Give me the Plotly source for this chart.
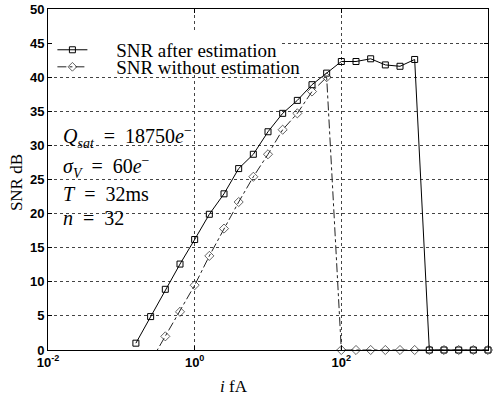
import plotly.graph_objects as go

# ---- data ----
current_after = [0.158, 0.251, 0.398, 0.631, 1.0, 1.585, 2.512, 3.981, 6.310, 10.0,
                 15.85, 25.12, 39.81, 63.10, 100.0, 158.5, 251.2, 398.1, 631.0,
                 1000.0, 1585.0, 2512.0, 3981.0, 6310.0, 10000.0]
snr_after = [1.0, 4.9, 8.9, 12.6, 16.2, 19.9, 22.9, 26.6, 28.7, 32.0,
             34.7, 36.6, 38.9, 40.6, 42.3, 42.3, 42.7, 41.8, 41.6,
             42.6, 0, 0, 0, 0, 0]

current_without = [0.251, 0.398, 0.631, 1.0, 1.585, 2.512, 3.981, 6.310, 10.0,
                   15.85, 25.12, 39.81, 63.10, 100.0, 158.5, 251.2, 398.1, 631.0,
                   1000.0, 1585.0, 2512.0, 3981.0, 6310.0, 10000.0]
snr_without = [-1.7, 2.0, 5.6, 9.5, 13.8, 17.8, 21.7, 25.4, 28.7,
               32.3, 34.7, 37.9, 40.0, 0, 0, 0, 0, 0,
               0, 0, 0, 0, 0, 0]

series_names = ["SNR after estimation", "SNR without estimation"]
x_tick_vals = [0.01, 1, 100, 10000]
x_tick_text = ["<b>10<sup>-2</sup></b>", "<b>10<sup>0</sup></b>",
               "<b>10<sup>2</sup></b>", "<b>10<sup>4</sup></b>"]
y_tick_vals = [0, 5, 10, 15, 20, 25, 30, 35, 40, 45, 50]
y_tick_text = ["<b>%d</b>" % v for v in y_tick_vals]
EQ = "\u00a0=\u00a0"
param_lines = ["<i>Q</i><sub><i>sat</i></sub> " + EQ + " 18750<i>e</i><sup>\u2212</sup>",
               "<i>\u03c3</i><sub><i>V</i></sub> " + EQ + " 60<i>e</i><sup>\u2212</sup>",
               "<i>T</i> " + EQ + " 32ms",
               "<i>n</i> " + EQ + " 32"]
param_y = [31.2, 26.9, 22.9, 19.4]

SERIF = "Liberation Serif, Times New Roman, serif"
SANS = "Liberation Sans, Arial, sans-serif"
pad = "\u00a0\u00a0\u00a0\u00a0\u00a0"

fig = go.Figure()
fig.add_trace(go.Scatter(
    x=current_after, y=snr_after, mode="lines+markers",
    name=pad + series_names[0],
    line=dict(color="black", width=1),
    marker=dict(symbol="square-open", size=6, color="black", line=dict(width=1)),
    cliponaxis=False, legend="legend"))
fig.add_trace(go.Scatter(
    x=current_without, y=snr_without, mode="lines+markers",
    name=pad + series_names[1],
    line=dict(color="#222", width=1, dash="dashdot"),
    marker=dict(symbol="diamond-open", size=[0 if v < 0 else 7 for v in snr_without],
                color="#222", line=dict(width=1)),
    cliponaxis=False, legend="legend2"))

axis_common = dict(showline=True, linecolor="black", linewidth=1, mirror="ticks",
                   ticks="inside", ticklen=4, tickcolor="black",
                   showgrid=True, gridcolor="#444", gridwidth=1, griddash="dot",
                   zeroline=False, automargin=False,
                   tickfont=dict(family=SANS, size=13, color="black", weight="bold"))

fig.update_layout(
    width=498, height=397,
    margin=dict(l=48, r=10, t=9, b=47),
    paper_bgcolor="white", plot_bgcolor="white",
    xaxis=dict(type="log", range=[-2, 4], tickvals=x_tick_vals, ticktext=x_tick_text,
               **axis_common),
    yaxis=dict(range=[0, 50], tickvals=y_tick_vals, ticktext=y_tick_text, **axis_common),
    legend=dict(x=0.01, y=0.88, xanchor="left", yanchor="middle",
                bgcolor="white", borderwidth=0,
                font=dict(family=SERIF, size=19, color="black")),
    legend2=dict(x=0.01, y=0.83, xanchor="left", yanchor="middle",
                 bgcolor="rgba(0,0,0,0)", borderwidth=0,
                 font=dict(family=SERIF, size=19, color="black")),
    showlegend=True,
)

for txt, yy in zip(param_lines, param_y):
    fig.add_annotation(text=txt, xref="paper", yref="y", x=0.03, y=yy,
                       xanchor="left", yanchor="middle", showarrow=False,
                       font=dict(family=SERIF, size=20, color="black"))

fig.add_annotation(text="SNR dB", xref="paper", yref="paper", x=-0.07, y=0.49,
                   textangle=-90, showarrow=False, xanchor="center", yanchor="middle",
                   font=dict(family=SERIF, size=17, color="black"))
fig.add_annotation(text="<i>i</i> fA", xref="paper", yref="paper", x=0.4227, y=-0.108,
                   showarrow=False, xanchor="center", yanchor="middle",
                   font=dict(family=SERIF, size=17, color="black"))

fig.write_html("out.html", config={"displayModeBar": False},
               post_script="document.body.style.margin='0px';")
